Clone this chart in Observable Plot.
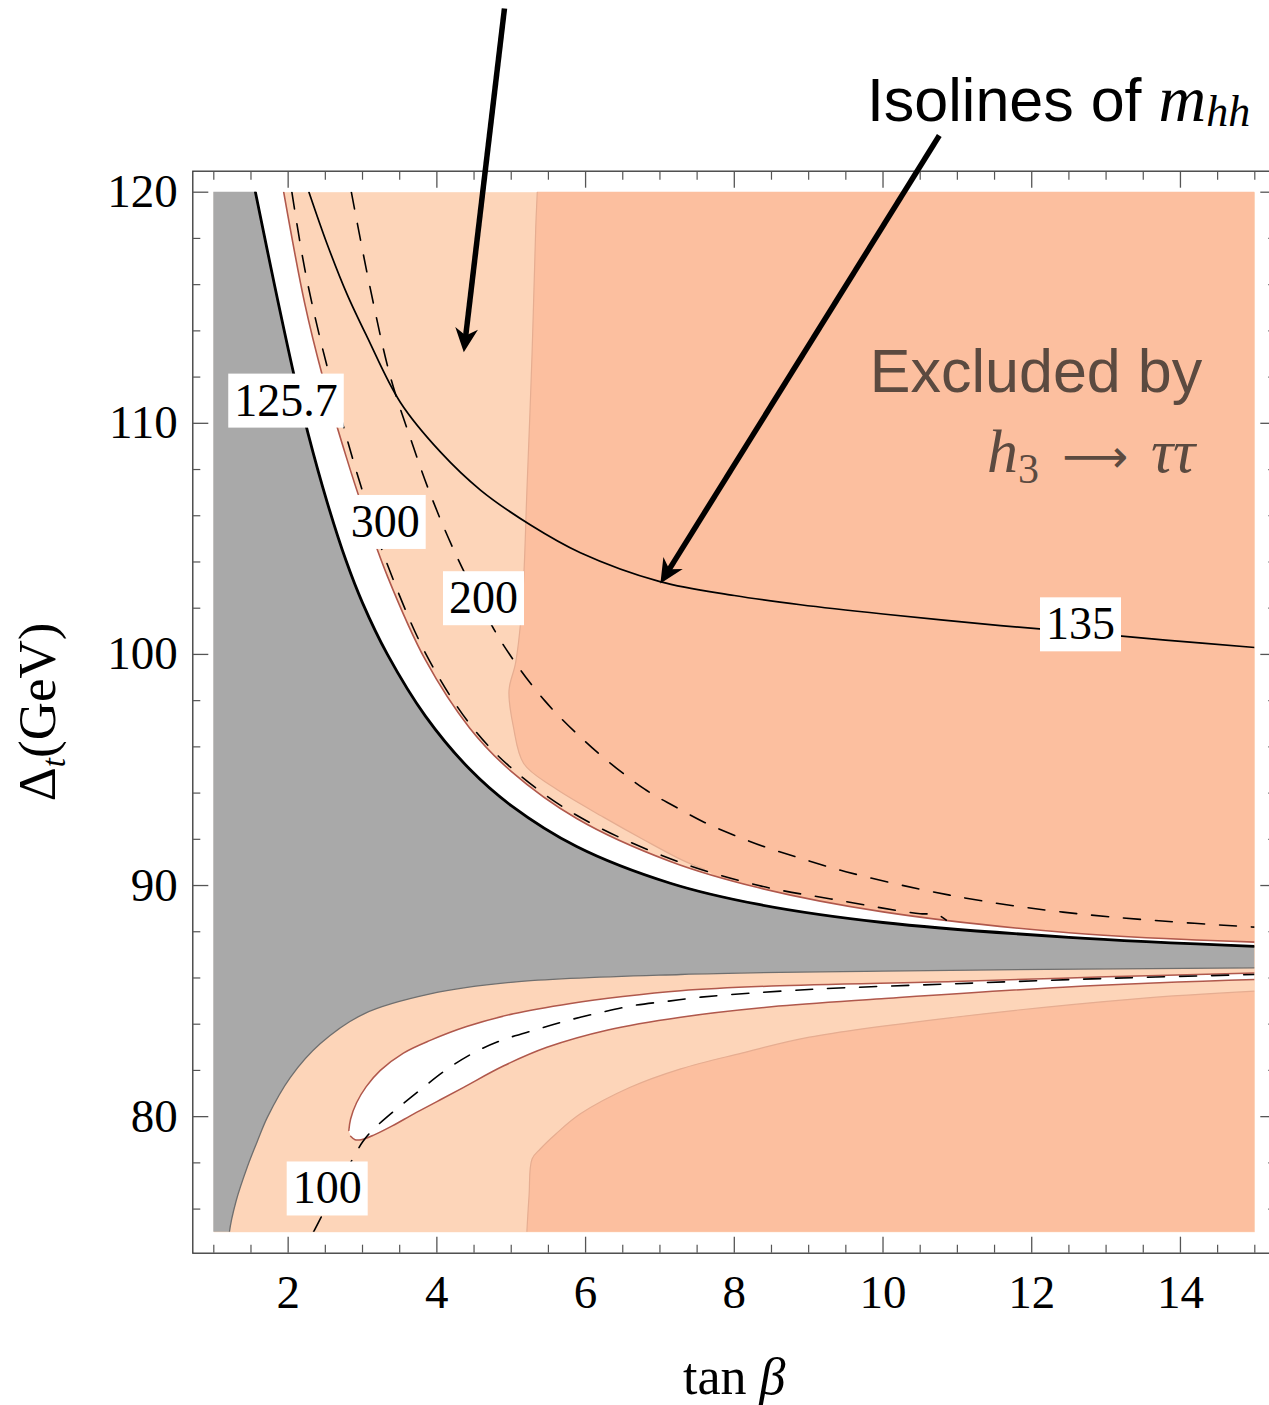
<!DOCTYPE html>
<html>
<head>
<meta charset="utf-8">
<script src="https://cdn.jsdelivr.net/npm/d3@7"></script>
<script src="https://cdn.jsdelivr.net/npm/@observablehq/plot@0.6"></script>
<style>
html,body{margin:0;padding:0;background:#fff;overflow:hidden;}
#chart{width:1269px;height:1405px;overflow:hidden;}
</style>
</head>
<body>
<div id="chart"></div>
<script>
// ---------- tick values ----------
const xMajorTicks = [2, 4, 6, 8, 10, 12, 14];
const xMinorTicks = [1, 1.5, 2.5, 3, 3.5, 4.5, 5, 5.5, 6.5, 7, 7.5, 8.5, 9, 9.5, 10.5, 11, 11.5, 12.5, 13, 13.5, 14.5, 15];
const yMajorTicks = [80, 90, 100, 110, 120];
const yMinorTicks = [76, 78, 82, 84, 86, 88, 92, 94, 96, 98, 102, 104, 106, 108, 112, 114, 116, 118];

// ---------- contour / region boundaries [tanβ, Δt] ----------
// m_h = 125.7 isoline (upper edge of grey region)
const iso1257 = [[1.56,120],[1.82,115.93],[2.08,112.07],[2.27,109.53],[2.525,106.58],[2.778,104.06],[3.0,102.23],[3.333,100.01],[3.846,97.33],[4.44,95.04],[5.0,93.46],[5.88,91.69],[7.14,90.1],[8.33,89.18],[10,88.4],[12.5,87.76],[15,87.37]];
// red boundary above the white band
const redUpper = [[1.94,120],[2.222,115.2],[2.46,112.07],[2.778,108.58],[3.0,106.37],[3.333,103.4],[3.846,99.76],[4.44,96.82],[5.0,94.94],[5.88,92.9],[7.14,91.04],[8.33,89.9],[10,88.86],[12.5,87.96],[15,87.55]];
// lower edge of grey region
const grayLower = [[1.21,75],[1.3,76.35],[1.449,77.81],[1.6,79.05],[1.72,79.97],[2.03,81.7],[2.43,83.15],[3.02,84.45],[3.91,85.31],[5.03,85.82],[7.28,86.15],[10,86.3],[15,86.44]];
// white allowed tongue (red outline): upper edge then lower edge
const tongueUpper = [[2.816,79.4],[2.84,79.9],[2.92,80.6],[3.05,81.3],[3.24,82.0],[3.55,82.75],[3.91,83.3],[4.4,83.9],[5.03,84.45],[5.8,84.9],[6.5,85.2],[7.28,85.45],[8.5,85.65],[10.96,85.85],[13,86.05],[15,86.22]];
const tongueLower = [[15,85.93],[12.42,85.6],[9.98,85.1],[8.5,84.75],[7.28,84.3],[6.3,83.75],[5.48,83.0],[4.9,82.2],[4.36,81.27],[4.0,80.65],[3.69,80.12],[3.4,79.6],[3.15,79.2],[2.98,79.0],[2.9,79.0],[2.84,79.15]];
// h3 -> tau tau exclusion boundaries
const tauUpperEdge = [[5.35,120],[5.33,118.5],[5.28,113],[5.21,107],[5.15,102.3],[5.06,99.66],[4.97,98.44],[5.03,96.85],[5.17,95.27],[5.57,94.25],[6.24,92.96],[6.8,91.95],[7.3,91.1],[7.6,90.7]];
const tauLowerEdge = [[5.21,75],[5.24,76.6],[5.28,78.17],[5.39,78.6],[5.6,79.25],[5.93,80.12],[6.6,81.27],[7.28,82.07],[8.1,82.75],[9.01,83.44],[10.96,84.3],[13.4,85.1],[15,85.43]];
// m_hh isolines
const iso300 = [[2.05,120],[2.222,116.7],[2.46,113.27],[2.778,109.48],[3.0,107.07],[3.333,103.9],[3.846,100.06],[4.44,97.0],[5.0,95.09],[5.88,93.04],[7.14,91.16],[8.33,90.0],[9.3,89.42],[10.5,88.78],[10.72,88.76],[10.85,88.5]];
const iso200 = [[2.85,120],[3.1,115.9],[3.376,112.0],[3.65,109.3],[3.91,106.95],[4.23,104.5],[4.6,102.1],[4.9,100.38],[5.45,98.0],[6.09,95.96],[6.79,94.18],[7.2,93.42],[7.6,92.73],[8.02,92.15],[8.43,91.65],[8.87,91.2],[9.5,90.6],[10.47,89.86],[11.4,89.3],[12.42,88.85],[13.6,88.5],[15,88.2]];
const iso100 = [[2.34,75],[2.5,76.0],[2.7,77.2],[2.88,78.24],[3.0,78.9],[3.13,79.4],[3.39,80.15],[3.74,81.06],[4.1,81.97],[4.47,82.72],[4.86,83.29],[5.33,83.76],[5.76,84.16],[6.22,84.52],[6.67,84.82],[7.12,85.0],[7.55,85.17],[9,85.5],[10.96,85.75],[13,85.98],[15,86.15]];
const iso135 = [[2.28,120],[2.525,117.75],[2.79,115.6],[3.06,113.75],[3.51,110.9],[4.05,108.75],[4.59,107.1],[5.26,105.6],[5.93,104.4],[7.0,103.15],[8.0,102.55],[8.89,102.15],[10.0,101.75],[11.58,101.25],[12.66,100.95],[13.8,100.62],[15,100.3]];

// contour labels
const labelText = ["125.7", "300", "200", "100", "135"];
const labelX = [1.971, 3.305, 4.627, 2.525, 12.656];
const labelY = [110.97, 105.72, 102.42, 76.88, 101.29];

// annotations (data units)
const arrowX1 = [4.909, 10.757], arrowY1 = [127.95, 122.45];
const arrowX2 = [4.362, 7.006],  arrowY2 = [113.08, 103.07];
const noteText = ["Excluded by", "h3 → ττ", "Isolines of mhh"];
const noteX = [14.292, 14.2, 14.938];
const noteY = [111.35, 107.88, 123.10];
const xTitle = "tan β", xTitleX = 8.0, xTitleY = 67.98;
const yTitle = "Δt(GeV)", yTitleX = -1.129, yTitleY = 97.51;

// ---------- styles & layout ----------
const serif = '"Liberation Serif","Times New Roman",Times,serif';
const sans = '"Liberation Sans",Arial,Helvetica,sans-serif';
const PEACH = "#fdd5b9", SALMON = "#fcbf9f", GRAY = "#a9a9a9", RED = "#b0584c", INK = "#5b4a40", TICK = "#555";
const W = 1269, H = 1405, X0 = 213.3, X1 = 1254.3, Y0 = 191.7, Y1 = 1231.7, PAD = 21;
const kx = (X1 - X0) / 14, ky = (Y1 - Y0) / 45;

// polygons assembled from the boundaries (extended past the clipped data area)
const grayPoly = [[0.9,74],[0.9,121],[1.5,121], ...iso1257, [15.5,87.3],[15.5,86.45], ...grayLower.slice().reverse(), [1.2,74]];
const bandPoly = [[1.5,121], ...iso1257, [15.5,87.3],[15.5,87.6], ...redUpper.slice().reverse(), [1.88,121]];
const tauUpperPoly = [[5.36,121], ...tauUpperEdge, ...iso1257.filter(d => d[0] >= 8), [15.5,87.3],[15.5,121]];
const tauLowerPoly = [[5.2,74], ...tauLowerEdge, [15.5,85.5],[15.5,74]];
const tonguePoly = [...tongueUpper, [15.6,86.3],[15.6,85.97], ...tongueLower];

const XY = {x: d => d[0], y: d => d[1]};
const poly = (pts, o) => Plot.line(pts, {...XY, curve: "catmull-rom", clip: true, stroke: "none", ...o});
const iso = (pts, o) => Plot.line(pts, {...XY, curve: "catmull-rom", clip: true, fill: "none", ...o});

const labels = labelText.map((t, i) => ({t, x: labelX[i], y: labelY[i]}));
const arrows = arrowX1.map((x1, i) => {
  const x2 = arrowX2[i], y1 = arrowY1[i], y2 = arrowY2[i];
  const dxp = (x2 - x1) * kx, dyp = -(y2 - y1) * ky, L = Math.hypot(dxp, dyp);
  const back = 14;
  return {x1, y1, x2, y2,
    sx2: x2 - (dxp / L * back) / kx,
    sy2: y2 + (dyp / L * back) / ky,
    angle: Math.atan2(dxp, -dyp) * 180 / Math.PI};
});
const headSymbol = {draw(ctx, size) {
  const k = Math.sqrt(size / Math.PI);
  ctx.moveTo(0, 0);
  ctx.lineTo(0.95 * k, 2 * k);
  ctx.lineTo(0, 1.4 * k);
  ctx.lineTo(-0.95 * k, 2 * k);
  ctx.closePath();
}};
const notes = noteText.map((t, i) => ({t, x: noteX[i], y: noteY[i]}));

const plot = Plot.plot({
  width: W, height: H,
  marginLeft: X0, marginRight: W - X1, marginTop: Y0, marginBottom: H - Y1,
  x: {domain: [1, 15]},
  y: {domain: [75, 120]},
  style: {fontFamily: serif, background: "white"},
  marks: [
    Plot.frame({fill: PEACH, stroke: "none"}),
    poly(tauLowerPoly, {fill: SALMON}),
    poly(tauUpperPoly, {fill: SALMON}),
    iso(tauLowerEdge, {stroke: "#e6ad91", strokeWidth: 1.2}),
    iso(tauUpperEdge, {stroke: "#e6ad91", strokeWidth: 1.2}),
    poly(bandPoly, {fill: "white"}),
    poly(grayPoly, {fill: GRAY, stroke: "#6f6f6f", strokeWidth: 1.3}),
    poly(tonguePoly, {fill: "white", stroke: RED, strokeWidth: 1.5}),
    iso(redUpper, {stroke: RED, strokeWidth: 1.6}),
    iso(iso300, {stroke: "black", strokeWidth: 1.6, strokeDasharray: "17,15"}),
    iso(iso200, {stroke: "black", strokeWidth: 1.6, strokeDasharray: "17,15"}),
    iso(iso100, {stroke: "black", strokeWidth: 1.6, strokeDasharray: "17,15"}),
    iso(iso135, {stroke: "black", strokeWidth: 1.7}),
    iso(iso1257, {stroke: "black", strokeWidth: 2.8}),
    Plot.text(labels, {x: "x", y: "y", text: "t", fontSize: 46, fontFamily: serif, fill: "black", ariaDescription: "contour-label"}),
    Plot.text(notes.slice(0, 1), {x: "x", y: "y", text: "t", textAnchor: "end", lineAnchor: "bottom", fontSize: 61, fontFamily: sans, fontWeight: 300, fill: INK}),
    Plot.text(notes.slice(1, 2), {x: "x", y: "y", text: "t", textAnchor: "end", lineAnchor: "bottom", fontSize: 62, fontFamily: serif, fill: INK, ariaDescription: "decay-note"}),
    // outer frame and ticks
    Plot.frame({inset: -PAD, stroke: "#333", strokeWidth: 1.3}),
    Plot.axisX(xMajorTicks, {anchor: "bottom", dy: PAD, tickSize: -16, fill: "none", stroke: TICK, strokeWidth: 1.3, label: null}),
    Plot.axisX(xMinorTicks, {anchor: "bottom", dy: PAD, tickSize: -8, fill: "none", stroke: TICK, strokeWidth: 1.2, label: null}),
    Plot.axisX(xMajorTicks, {anchor: "top", dy: -PAD, tickSize: -16, fill: "none", stroke: TICK, strokeWidth: 1.3, label: null}),
    Plot.axisX(xMinorTicks, {anchor: "top", dy: -PAD, tickSize: -8, fill: "none", stroke: TICK, strokeWidth: 1.2, label: null}),
    Plot.axisY(yMajorTicks, {anchor: "left", dx: -PAD, tickSize: -16, fill: "none", stroke: TICK, strokeWidth: 1.3, label: null}),
    Plot.axisY(yMinorTicks, {anchor: "left", dx: -PAD, tickSize: -8, fill: "none", stroke: TICK, strokeWidth: 1.2, label: null}),
    Plot.axisY(yMajorTicks, {anchor: "right", dx: PAD, tickSize: -16, fill: "none", stroke: TICK, strokeWidth: 1.3, label: null}),
    Plot.axisY(yMinorTicks, {anchor: "right", dx: PAD, tickSize: -8, fill: "none", stroke: TICK, strokeWidth: 1.2, label: null}),
    Plot.axisX(xMajorTicks, {anchor: "bottom", dy: PAD, tickSize: 0, tickPadding: 21, fontSize: 47, fontFamily: serif, fill: "black", label: null}),
    Plot.axisY(yMajorTicks, {anchor: "left", dx: -PAD, tickSize: 0, tickPadding: 15, fontSize: 47, fontFamily: serif, fill: "black", label: null}),
    // annotation arrows
    Plot.link(arrows, {x1: "x1", y1: "y1", x2: "sx2", y2: "sy2", stroke: "black", strokeWidth: 5.5}),
    Plot.dot(arrows, {x: "x2", y: "y2", symbol: headSymbol, r: 12, rotate: "angle", fill: "black", stroke: "none"}),
    Plot.text(notes.slice(2, 3), {x: "x", y: "y", text: "t", textAnchor: "end", lineAnchor: "bottom", fontSize: 61, fontFamily: sans, fill: "black", ariaDescription: "iso-note"}),
    Plot.text([xTitle], {x: xTitleX, y: xTitleY, text: d => d, lineAnchor: "bottom", fontSize: 52, fontFamily: serif, fill: "black", ariaDescription: "x-title"}),
    Plot.text([yTitle], {x: yTitleX, y: yTitleY, text: d => d, rotate: -90, lineAnchor: "bottom", fontSize: 53, fontFamily: serif, fill: "black", ariaDescription: "y-title"})
  ]
});

document.getElementById("chart").append(plot);

// ---------- post-processing: label boxes and rich text ----------
const svg = d3.select(plot);
const grp = name => svg.selectAll(`g[aria-description="${name}"]`);
grp("contour-label").selectAll("text").each(function() {
  const bb = this.getBBox();
  const r = document.createElementNS("http://www.w3.org/2000/svg", "rect");
  r.setAttribute("x", bb.x - 6);
  r.setAttribute("y", bb.y - 1);
  r.setAttribute("width", bb.width + 12);
  r.setAttribute("height", bb.height + 3);
  r.setAttribute("fill", "white");
  const tr = this.getAttribute("transform");
  if (tr) r.setAttribute("transform", tr);
  this.parentNode.insertBefore(r, this);
});

function rich(name, parts) {
  const el = grp(name).select("text");
  if (el.empty()) return;
  el.text("");
  for (const p of parts) {
    const ts = el.append("tspan").text(p.t);
    for (const k in (p.a || {})) ts.attr(k, p.a[k]);
  }
}
rich("decay-note", [
  {t: "h", a: {"font-style": "italic"}},
  {t: "3", a: {"font-size": "42px", dy: "11"}},
  {t: "\u2002\u27F6\u2002", a: {dy: "-11", "font-family": '"DejaVu Sans",sans-serif', "font-size": "46px"}},
  {t: "ττ", a: {"font-style": "italic"}}
]);
rich("iso-note", [
  {t: "Isolines of ", a: {"font-family": sans, "font-weight": 300}},
  {t: "m", a: {"font-family": serif, "font-style": "italic", "font-size": "66px"}},
  {t: "hh", a: {"font-family": serif, "font-style": "italic", "font-size": "44px", dy: "5"}}
]);
rich("x-title", [
  {t: "tan "},
  {t: "β", a: {"font-style": "italic"}}
]);
rich("y-title", [
  {t: "Δ"},
  {t: "t", a: {"font-style": "italic", "font-size": "33px", dy: "10"}},
  {t: "(GeV)", a: {dy: "-10"}}
]);
</script>
</body>
</html>
